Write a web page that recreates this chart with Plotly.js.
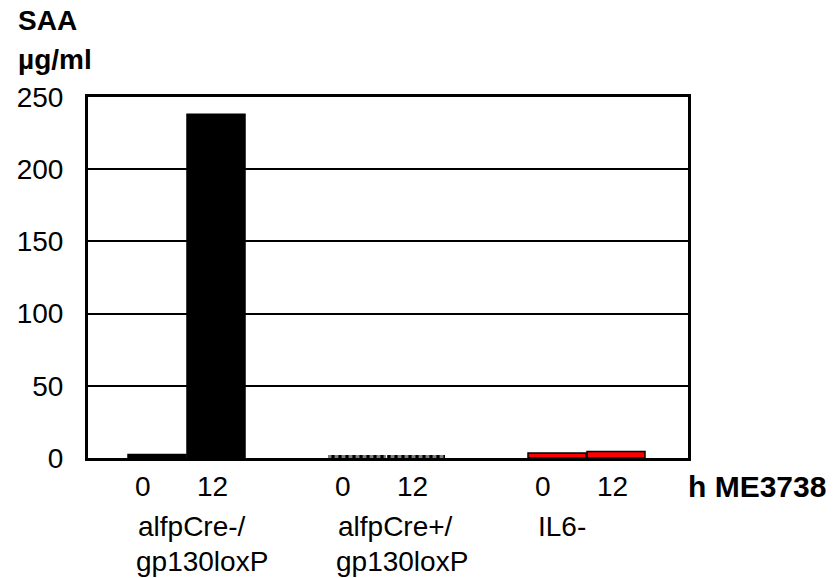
<!DOCTYPE html>
<html>
<head>
<meta charset="utf-8">
<script src="https://cdn.plot.ly/plotly-3.0.1.min.js"></script>
<style>
  html, body { margin: 0; padding: 0; background: #fff; }
  #chart { width: 837px; height: 578px; }
</style>
</head>
<body>
<div id="chart"></div>
<script>
// SAA serum levels (µg/ml) at 0 h and 12 h after ME3738
const groupIndex = [0, 1, 2];
const groupLine1 = ["alfpCre-/", "alfpCre+/", "IL6-"];
const groupLine2 = ["gp130loxP", "gp130loxP", ""];
const timeLabels = ["0", "12"];
const saa0h = [2.5, 2, 3.5];
const saa12h = [238, 2, 4.5];

const fillColors = ["#000000", "#000000", "#ff0000"];
const patternShapes = ["", "|", ""];
const outlineWidths = [1.5, 0, 1.5];

const FONT = "Liberation Sans, Arial, Helvetica, sans-serif";
const SIZE = 28;

function barTrace(name, values, offset) {
  return {
    type: "bar",
    name: name,
    x: groupIndex,
    y: values,
    width: 0.29,
    offset: offset,
    marker: {
      color: fillColors,
      line: { color: "#000000", width: outlineWidths },
      pattern: { shape: patternShapes, fgcolor: "#000000", bgcolor: "#ffffff", size: 7, solidity: 0.55, fillmode: "overlay" }
    },
    hoverinfo: "x+y"
  };
}

const traces = [
  barTrace(timeLabels[0], saa0h, -0.30),
  barTrace(timeLabels[1], saa12h, -0.005)
];

const txt = (extra, size) => Object.assign({ showarrow: false, font: { family: FONT, size: size || SIZE, color: "#000" } }, extra);

const annotations = [];
groupIndex.forEach((g, i) => {
  annotations.push(txt({ x: g, xref: "x", y: 0, yref: "paper", yanchor: "middle", xanchor: "center",
    yshift: -28, xshift: -45, text: timeLabels[0] }));
  annotations.push(txt({ x: g, xref: "x", y: 0, yref: "paper", yanchor: "middle", xanchor: "center",
    yshift: -28, xshift: 24, text: timeLabels[1] }));
  annotations.push(txt({ x: g, xref: "x", y: 0, yref: "paper", yanchor: "middle", xanchor: "left",
    yshift: -68, xshift: -52, text: groupLine1[i] }));
  if (groupLine2[i]) {
    annotations.push(txt({ x: g, xref: "x", y: 0, yref: "paper", yanchor: "middle", xanchor: "left",
      yshift: -103, xshift: -54, text: groupLine2[i] }));
  }
});

// axis caption at the end of the x axis
annotations.push(txt({ x: 1, xref: "paper", y: 0, yref: "paper", xanchor: "left", yanchor: "middle",
  xshift: -2, yshift: -28, text: "<b>h ME3738</b>" }, 30));

// y axis caption, two lines
annotations.push(txt({ x: 0, xref: "paper", y: 1, yref: "paper", xanchor: "left", yanchor: "middle",
  xshift: -72, yshift: 77, text: "<b>SAA</b>" }));
annotations.push(txt({ x: 0, xref: "paper", y: 1, yref: "paper", xanchor: "left", yanchor: "middle",
  xshift: -72, yshift: 38, text: "<b>µg/ml</b>" }));

const layout = {
  width: 837,
  height: 578,
  margin: { l: 88, r: 149, t: 97, b: 120 },
  paper_bgcolor: "#ffffff",
  plot_bgcolor: "#ffffff",
  showlegend: false,
  font: { family: FONT, size: SIZE, color: "#000" },
  xaxis: {
    range: [-0.5, 2.5],
    showticklabels: false,
    ticks: "",
    showgrid: false,
    zeroline: false,
    showline: true,
    linecolor: "#000",
    linewidth: 3,
    mirror: true,
    fixedrange: true
  },
  yaxis: {
    range: [0, 250],
    tickvals: [0, 50, 100, 150, 200, 250],
    ticks: "",
    ticklabelstandoff: 16,
    tickfont: { family: FONT, size: SIZE, color: "#000" },
    showgrid: true,
    gridcolor: "#000",
    gridwidth: 2,
    zeroline: false,
    showline: true,
    linecolor: "#000",
    linewidth: 3,
    mirror: true,
    fixedrange: true
  },
  annotations: annotations
};

Plotly.newPlot("chart", traces, layout, { displayModeBar: false, staticPlot: true });
</script>
</body>
</html>
